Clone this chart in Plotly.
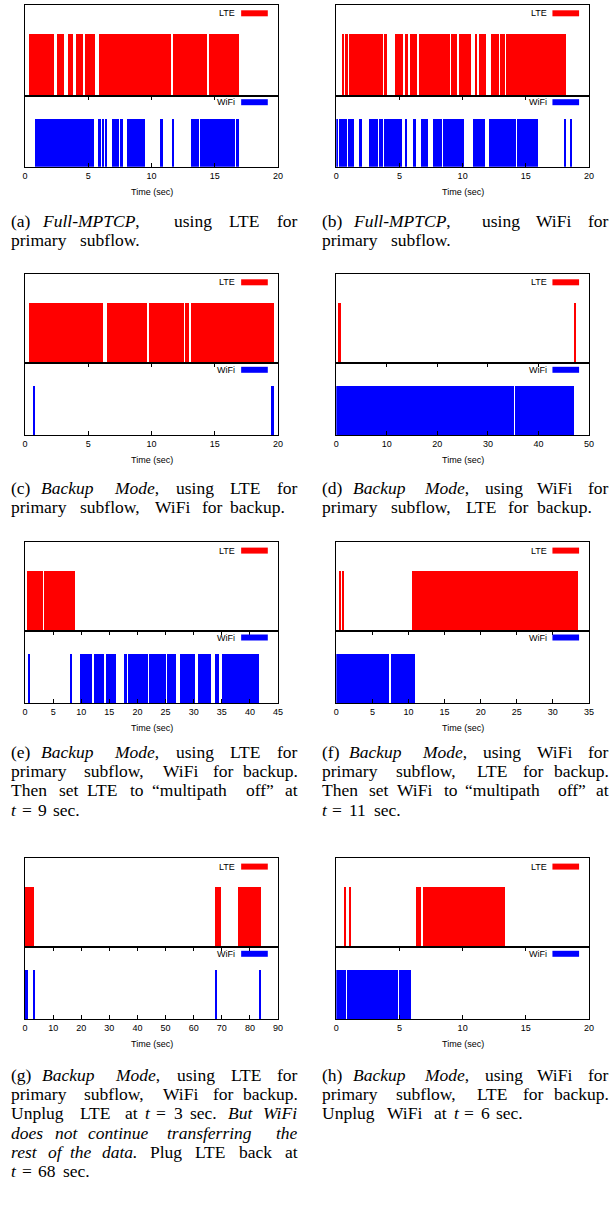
import re

import plotly.graph_objects as go

W, H = 613, 1205
RED = "#ff0000"
BLUE = "#0000ff"
SANS = "Liberation Sans, Arial, sans-serif"
SERIF = "Liberation Serif, Times New Roman, serif"
CAP_SIZE = 17.5
CAP_STRETCH = 1.17  # the scanned captions run wider than their glyph height

# active periods (start, end) in seconds
A_LTE = [(0.29, 2.31), (2.55, 3.10), (3.41, 3.80), (4.03, 4.60), (4.73, 5.57),
         (5.83, 11.55), (11.68, 14.41), (14.51, 16.90)]
A_WIFI = [(0.78, 5.44), (5.75, 6.03), (6.11, 6.22), (6.37, 6.50), (6.84, 7.44),
          (7.54, 7.78), (8.09, 9.49), (10.66, 10.87), (11.68, 11.81),
          (13.08, 13.78), (13.84, 16.59), (16.67, 16.88)]

B_LTE = [(0.49, 0.63), (0.73, 0.96), (1.04, 3.70), (3.78, 4.01), (4.69, 5.34),
         (5.49, 5.73), (5.89, 6.43), (6.54, 9.04), (9.11, 9.56), (9.71, 10.70),
         (11.07, 11.20), (11.28, 11.90), (12.29, 12.89), (12.99, 13.39),
         (13.46, 18.23)]
B_WIFI = [(0.0, 0.08), (0.23, 0.86), (0.91, 1.43), (1.88, 2.03), (2.60, 3.18),
          (3.23, 3.36), (3.41, 3.54), (3.62, 3.75), (3.80, 4.17), (4.22, 5.26),
          (5.49, 5.65), (6.17, 6.30), (6.74, 7.27), (7.66, 8.36), (8.44, 10.16),
          (10.81, 11.80), (12.14, 14.24), (14.32, 15.26), (15.31, 16.02),
          (18.07, 18.20), (18.54, 18.67)]

C_LTE = [(0.29, 6.14), (6.45, 9.62), (9.78, 12.54), (12.61, 12.98), (13.13, 19.71)]
C_WIFI = [(0.68, 0.81), (19.51, 19.64)]

D_LTE = [(0.46, 0.91), (47.1, 47.5)]
D_WIFI = [(0.0, 35.16), (35.4, 47.1)]

E_LTE = [(0.29, 3.28), (3.39, 8.84)]
E_WIFI = [(0.64, 0.82), (8.02, 8.25), (9.71, 12.0), (12.23, 14.10), (14.34, 16.27),
          (17.55, 18.20), (18.37, 21.83), (22.06, 25.04), (25.28, 26.80),
          (27.50, 30.19), (30.72, 32.48), (32.59, 33.0), (33.82, 34.52),
          (34.99, 41.55)]

F_LTE = [(0.46, 0.68), (0.87, 1.09), (10.57, 10.71), (10.80, 29.72), (29.85, 33.50)]
F_WIFI = [(0.0, 7.29), (7.57, 10.94)]

G_LTE = [(0.0, 3.28), (67.9, 68.2), (68.5, 68.8), (69.05, 69.5), (75.7, 84.0)]
G_WIFI = [(0.12, 0.94), (3.16, 3.63), (67.9, 68.35), (83.45, 84.0)]

H_LTE = [(0.65, 0.78), (1.02, 1.22), (6.30, 6.74), (6.88, 13.41)]
H_WIFI = [(0.0, 0.81), (0.89, 4.87), (4.95, 5.91)]

X_MAX = [20, 20, 20, 50, 45, 35, 90, 20]
X_STEP = [5, 5, 5, 10, 5, 5, 10, 5]

CAPTIONS = [
    ["(a) <i>Full-MPTCP</i>, using LTE for", "primary subflow."],
    ["(b) <i>Full-MPTCP</i>, using WiFi for", "primary subflow."],
    ["(c) <i>Backup Mode</i>, using LTE for", "primary subflow, WiFi for backup."],
    ["(d) <i>Backup Mode</i>, using WiFi for", "primary subflow, LTE for backup."],
    ["(e) <i>Backup Mode</i>, using LTE for", "primary subflow, WiFi for backup.",
     "Then set LTE to \u201cmultipath off\u201d at", "<i>t</i> = 9 sec."],
    ["(f) <i>Backup Mode</i>, using WiFi for", "primary subflow, LTE for backup.",
     "Then set WiFi to \u201cmultipath off\u201d at", "<i>t</i> = 11 sec."],
    ["(g) <i>Backup Mode</i>, using LTE for", "primary subflow, WiFi for backup.",
     "Unplug LTE at <i>t</i> = 3 sec. <i>But WiFi</i>",
     "<i>does not continue transferring the</i>",
     "<i>rest of the data.</i> Plug LTE back at", "<i>t</i> = 68 sec."],
    ["(h) <i>Backup Mode</i>, using WiFi for", "primary subflow, LTE for backup.",
     "Unplug WiFi at <i>t</i> = 6 sec."],
]

SERIES = [(A_LTE, A_WIFI), (B_LTE, B_WIFI), (C_LTE, C_WIFI), (D_LTE, D_WIFI),
          (E_LTE, E_WIFI), (F_LTE, F_WIFI), (G_LTE, G_WIFI), (H_LTE, H_WIFI)]

# layout in pixels
COLS = [(22.3, 278.7), (337.7, 593.7)]
ROWS = [(5, 95.7, 166.7), (274, 363.3, 435), (542.3, 631, 703.3), (858.3, 947.3, 1019.3)]
CAP_TOP = [221, 488, 752, 1075]
CAP_SPAN = [(7, 297), (322, 612)]
LINE_H = 19.2

# Times glyph widths (1/1000 em), used to justify the caption lines
ROMAN = dict(zip(
    " (),-.=0123456789\u201c\u201d"
    "ABCDEFGHIJKLMNOPQRSTUVWXYZabcdefghijklmnopqrstuvwxyz",
    [250, 333, 333, 250, 333, 250, 564] + [500] * 10 + [444, 444]
    + [722, 667, 667, 722, 611, 556, 722, 722, 333, 389, 722, 611, 889, 722, 722,
       556, 722, 667, 556, 611, 722, 722, 944, 722, 722, 611]
    + [444, 500, 444, 500, 444, 333, 500, 500, 278, 278, 500, 278, 778, 500, 500,
       500, 500, 333, 389, 278, 500, 500, 722, 500, 500, 444]))
ITALIC = dict(ROMAN)
ITALIC.update(zip(
    "ABCDEFGHIJKLMNOPQRSTUVWXYZabcdefghijklmnopqrstuvwxyz",
    [611, 611, 667, 722, 611, 611, 722, 722, 333, 444, 667, 556, 833, 667, 722,
     611, 722, 611, 500, 556, 722, 611, 833, 611, 556, 556]
    + [500, 500, 444, 500, 444, 278, 500, 500, 278, 278, 444, 278, 722, 500, 500,
       500, 500, 389, 389, 278, 500, 444, 667, 444, 444, 389]))


def split_words(line):
    words, cur, ital = [], [], False
    for tok in re.split(r"(<i>|</i>| )", line):
        if tok == "<i>":
            ital = True
        elif tok == "</i>":
            ital = False
        elif tok == " ":
            words.append(cur)
            cur = []
        elif tok:
            cur.append((tok, ital))
    words.append(cur)
    html = ["".join(f"<i>{t}</i>" if it else t for t, it in w) for w in words]
    width = [sum((ITALIC if it else ROMAN).get(c, 500) for t, it in w for c in t)
             * CAP_SIZE / 1000 for w in words]
    return html, width


def px(x):
    return x / W


def py(y):
    return 1 - y / H


fig = go.Figure()
layout = {}
annotations = []
shapes = []


def text(x, y, s, size, family, anchor="left"):
    annotations.append(dict(
        x=px(x), y=py(y), xref="paper", yref="paper", text=s, showarrow=False,
        xanchor=anchor, yanchor="middle", borderpad=0,
        font=dict(family=family, size=size, color="black"),
    ))


for i, (lte, wifi) in enumerate(SERIES):
    row, col = divmod(i, 2)
    x0, x1 = COLS[col]
    top, mid, bot = ROWS[row]
    for k, (data, color, name, y_lo, y_hi) in enumerate([
        (lte, RED, "LTE", mid, top),
        (wifi, BLUE, "WiFi", bot, mid),
    ]):
        n = 2 * i + k + 1
        sfx = "" if n == 1 else str(n)
        fig.add_trace(go.Bar(
            x=[(s + e) / 2 for s, e in data],
            y=[1] * len(data),
            width=[e - s for s, e in data],
            marker=dict(color=color, line_width=0),
            xaxis="x" + sfx, yaxis="y" + sfx,
            showlegend=False, hoverinfo="skip",
        ))
        xa = dict(
            domain=[px(x0), px(x1)], range=[0, X_MAX[i]], anchor="y" + sfx,
            showgrid=False, zeroline=False, showline=True, mirror=True,
            linecolor="black", linewidth=1.3,
        )
        if k == 0:
            xa.update(showticklabels=False, ticks="")
        else:
            xa.update(ticks="inside", ticklen=4, tickcolor="black", mirror="ticks",
                      dtick=X_STEP[i], tick0=0,
                      tickfont=dict(family=SANS, size=9, color="black"))
        layout["xaxis" + sfx] = xa
        layout["yaxis" + sfx] = dict(
            domain=[py(y_lo), py(y_hi)], range=[0, 1.48], anchor="x" + sfx,
            showgrid=False, zeroline=False, showticklabels=False, ticks="",
            showline=True, mirror=True, linecolor="black", linewidth=1.3,
        )
        # key: label plus colour swatch in the top-right corner
        ky = y_hi + (8.3 if k == 0 else 6.5)
        text(x0 + 214, ky, name, 9, SANS, "right")
        shapes.append(dict(
            type="rect", xref="paper", yref="paper",
            x0=px(x0 + 219), x1=px(x0 + 246), y0=py(ky - 3), y1=py(ky + 3),
            fillcolor=color, line_width=0,
        ))
    text((x0 + x1) / 2, bot + 25, "Time (sec)", 9, SANS, "center")

    # caption: word starts spread so full lines are justified,
    # the last line keeps the scan's wider letter spacing
    left, right = CAP_SPAN[col]
    lines = CAPTIONS[i]
    space = 0.25 * CAP_SIZE
    for j, line in enumerate(lines):
        y = CAP_TOP[row] + j * LINE_H
        words, widths = split_words(line)
        starts = [sum(widths[:m]) + m * space for m in range(len(words))]
        if j < len(lines) - 1:
            scale = (right - left - widths[-1]) / starts[-1]
        else:
            scale = CAP_STRETCH
        for w, s in zip(words, starts):
            text(left + s * scale, y, w, CAP_SIZE, SERIF)

fig.update_layout(
    width=W, height=H,
    margin=dict(l=0, r=0, t=0, b=0),
    paper_bgcolor="white", plot_bgcolor="white",
    annotations=annotations, shapes=shapes,
    bargap=0, hovermode=False,
    **layout,
)

fig.write_html("out.html", config={"displayModeBar": False},
               post_script="document.body.style.margin='0';")
